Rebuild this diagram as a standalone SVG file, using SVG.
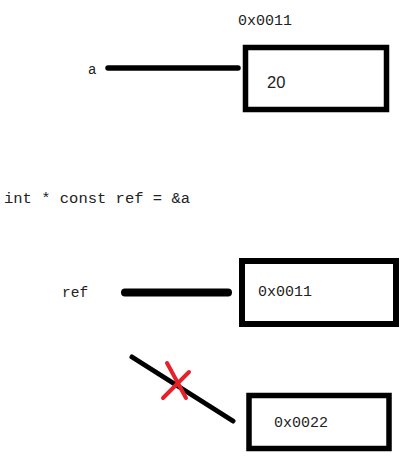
<svg xmlns="http://www.w3.org/2000/svg" width="400" height="456" viewBox="0 0 400 456">
<style>
.box{fill:none;stroke:#000;}
.mono{font-family:"Liberation Mono","DejaVu Sans Mono",monospace;fill:#222;}
.sans{font-family:"Liberation Sans",Arial,sans-serif;fill:#222;}
.conn{stroke:#000;stroke-linecap:round;fill:none;}
.x{stroke:#e8202a;stroke-linecap:round;stroke-width:4;fill:none;}
</style>
<rect width="400" height="456" fill="#fff"/>
<g id="code">
<text class="mono" x="4" y="203" font-size="15.5">int * const ref = &amp;a</text>
</g>
<g id="node-a">
<text class="mono" x="88" y="74" font-size="14">a</text>
</g>
<g id="node-box-a">
<text class="mono" x="238" y="25" font-size="15">0x0011</text>
<rect class="box" x="245.5" y="47.5" width="141" height="62" stroke-width="5.5"/>
<text class="sans" x="267" y="88" font-size="16.5">20</text>
</g>
<g id="node-ref">
<text class="mono" x="62" y="297" font-size="14.5">ref</text>
</g>
<g id="node-box-ref">
<rect class="box" x="242" y="261" width="154" height="63" stroke-width="6"/>
<text class="mono" x="258" y="296" font-size="15">0x0011</text>
</g>
<g id="node-box-new">
<rect class="box" x="249" y="395.5" width="140" height="53" stroke-width="5.5"/>
<text class="mono" x="274" y="427" font-size="15">0x0022</text>
</g>
<g id="connectors">
<line class="conn" x1="108" y1="68" x2="238" y2="68" stroke-width="5.5"/>
<line class="conn" x1="125" y1="292.5" x2="228" y2="292.5" stroke-width="8"/>
<line class="conn" x1="132" y1="357" x2="233" y2="421" stroke-width="5"/>
<path class="x" d="M167 363 L186 398 M189 372 L163 398"/>
</g>
</svg>
